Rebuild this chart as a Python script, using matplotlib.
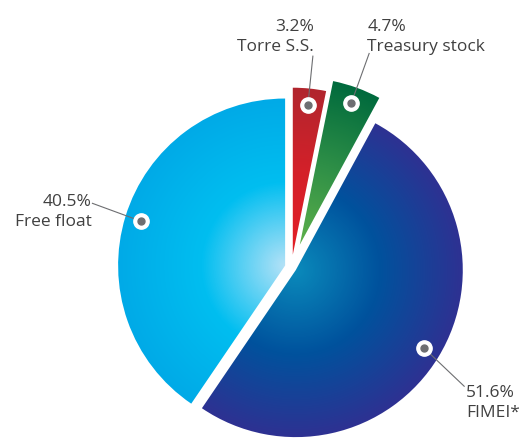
import numpy as np
import matplotlib.pyplot as plt
from matplotlib.colors import LinearSegmentedColormap

plt.rcParams['font.family'] = ['Open Sans', 'DejaVu Sans']

# data
labels = ['Torre S.S.', 'Treasury stock', 'FIMEI*', 'Free float']
shares = [3.2, 4.7, 51.6, 40.5]
pct_labels = ['3.2%', '4.7%', '51.6%', '40.5%']

# style
R = 167
explode = [0.077, 0.145, 0.03, 0.04]
gradients = [
    ['#E31E26', '#D42029', '#B1262E'],
    ['#5DB04A', '#2E8F47', '#006A3D'],
    ['#0A8ABB', '#00529D', '#2E3192'],
    ['#B4E2F7', '#00BEF0', '#00AAE7'],
]
# label placement: (text dx, text dy, line dx, line dy, ha, va) in pixels from marker
label_pos = [
    (6, 50, 5, 49, 'right', 'bottom'),
    (16, 48, 18, 50, 'left', 'bottom'),
    (42, -37, 40, -38, 'left', 'top'),
    (-50, 9, -49, 18, 'right', 'center'),
]
W, H = 529, 440
grey = '#6D6E71'

fig = plt.figure(figsize=(W / 100, H / 100), dpi=100)
ax = fig.add_axes([0, 0, 1, 1])
wedges, _ = ax.pie(shares, explode=[e * R for e in explode], startangle=90,
                   counterclock=False, radius=R, center=(291.5, 172.5),
                   wedgeprops=dict(linewidth=0))
ax.set_xlim(0, W)
ax.set_ylim(0, H)
ax.set_aspect('equal')
ax.axis('off')

xx, yy = np.meshgrid(np.arange(W) + 0.5, np.arange(H) + 0.5)
for w, cols, lab, pct, pos in zip(wedges, gradients, labels, pct_labels, label_pos):
    cx, cy = w.center
    rr = np.clip(np.hypot(xx - cx, yy - cy) / w.r, 0, 1)
    cmap = LinearSegmentedColormap.from_list('g', cols)
    im = ax.imshow(rr, cmap=cmap, vmin=0, vmax=1, extent=(0, W, 0, H),
                   origin='lower', zorder=1, interpolation='bilinear')
    im.set_clip_path(w)
    w.set_facecolor('none')

    # marker on bisector
    ang = np.deg2rad((w.theta1 + w.theta2) / 2)
    mx = cx + 0.9 * w.r * np.cos(ang)
    my = cy + 0.9 * w.r * np.sin(ang)
    tdx, tdy, ldx, ldy, ha, va = pos
    ax.plot([mx, mx + ldx], [my, my + ldy], color=grey, lw=0.8, zorder=3)
    ax.plot(mx, my, 'o', ms=11, color='white', zorder=4)
    ax.plot(mx, my, 'o', ms=5, color=grey, zorder=5)
    ax.text(mx + tdx, my + tdy, pct + '\n' + lab, ha=ha, va=va,
            fontsize=12.5, color='#404040', linespacing=1.35, zorder=6,
            multialignment=ha)

fig.savefig('out.png', dpi=100)
